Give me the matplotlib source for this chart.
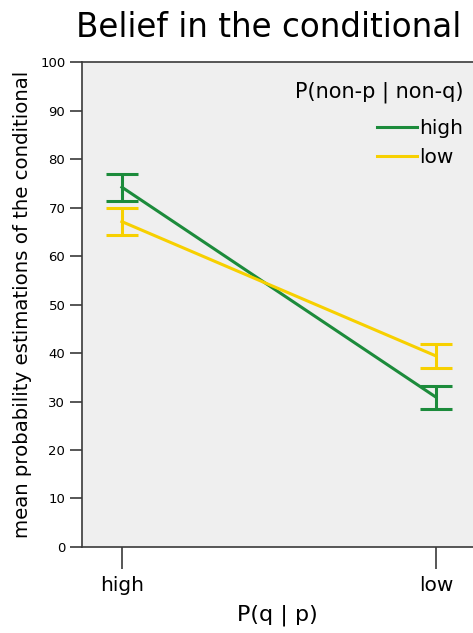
import matplotlib
matplotlib.use("Agg")
import matplotlib.pyplot as plt

# P(q|p) levels on the x axis
categories = ["high", "low"]
# P(non-p|non-q) groups: means and error half-widths
series_names = ["high", "low"]
means_high = [74.2, 30.9]
err_high = [2.8, 2.35]
means_low = [67.1, 39.4]
err_low = [2.85, 2.4]
y_ticks = [0, 10, 20, 30, 40, 50, 60, 70, 80, 90, 100]

GREEN = "#1c8b3b"
YELLOW = "#f7d000"

plt.rcParams["font.family"] = ["DejaVu Sans"]

fig = plt.figure(figsize=(4.73, 6.33), dpi=100)
ax = fig.add_axes([0.1734, 0.1359, 0.8266, 0.766])
ax.set_facecolor("#efefef")

x = list(range(len(categories)))
handles = []
for means, errs, color, name in [(means_high, err_high, GREEN, series_names[0]),
                                 (means_low, err_low, YELLOW, series_names[1])]:
    ax.errorbar(x, means, yerr=errs, color=color, lw=2.2, capsize=11.5,
                capthick=2.2, elinewidth=2.2, zorder=3)
    h, = ax.plot([], [], color=color, lw=2.2, label=name)
    handles.append(h)

ax.set_xlim(-0.127, 1.118)
ax.set_ylim(0, 100)
ax.set_xticks(x)
ax.set_xticklabels(categories, fontsize=14.5)
ax.set_yticks(y_ticks)
ax.set_yticklabels([str(v) for v in y_ticks], fontsize=9.5)

ax.spines["right"].set_visible(False)
for s in ["left", "bottom", "top"]:
    ax.spines[s].set_color("#3a3a3a")
    ax.spines[s].set_linewidth(1.2)

ax.tick_params(axis="y", direction="out", length=9, width=1.2, color="#3a3a3a", pad=3)
ax.tick_params(axis="x", direction="out", length=16, width=1.2, color="#3a3a3a", pad=5)

ax.set_ylabel("mean probability estimations of the conditional", fontsize=14.2, labelpad=6)
ax.set_xlabel("P(q | p)", fontsize=16, labelpad=7)
fig.text(0.567, 0.957, "Belief in the conditional", ha="center", va="center", fontsize=23.5)

leg = ax.legend(handles=handles, title="P(non-p | non-q)", loc="upper right",
                bbox_to_anchor=(1.022, 0.998), frameon=False, fontsize=14.5,
                title_fontsize=15, alignment="right", handlelength=2.0,
                handletextpad=0.12, labelspacing=0.5)
leg._legend_box.sep = 12

fig.savefig("out.png", dpi=100)
